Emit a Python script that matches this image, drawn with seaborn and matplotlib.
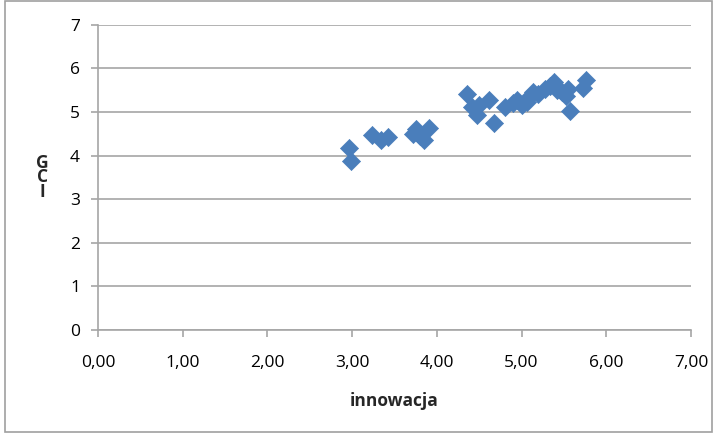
import matplotlib
matplotlib.use("Agg")
import matplotlib.pyplot as plt
from matplotlib.patches import Rectangle
from matplotlib.ticker import FuncFormatter, MultipleLocator
import pandas as pd
import seaborn as sns

# values
innowacja = [2.96, 2.99, 3.24, 3.34, 3.42, 3.72, 3.75, 3.80, 3.85, 3.91,
             4.36, 4.42, 4.47, 4.50, 4.62, 4.67, 4.80, 4.90, 4.95, 5.00,
             5.06, 5.08, 5.14, 5.20, 5.28, 5.34, 5.38, 5.42, 5.48, 5.52,
             5.55, 5.57, 5.72, 5.76]
gci = [4.17, 3.87, 4.48, 4.35, 4.43, 4.49, 4.61, 4.45, 4.36, 4.63,
       5.42, 5.12, 4.93, 5.16, 5.28, 4.76, 5.12, 5.20, 5.28, 5.16,
       5.22, 5.32, 5.45, 5.42, 5.52, 5.60, 5.68, 5.50, 5.46, 5.38,
       5.54, 5.02, 5.55, 5.73]

df = pd.DataFrame({"innowacja": innowacja, "GCI": gci})

sns.set_style("white")
plt.rcParams["font.family"] = ["Open Sans", "DejaVu Sans"]

fig = plt.figure(figsize=(7.16, 4.37), dpi=100)
ax = fig.add_axes([0.137, 0.245, 0.828, 0.698])

sns.scatterplot(data=df, x="innowacja", y="GCI", marker="D", s=85,
                color="#4A7EBB", edgecolor="#4A7EBB", linewidth=0.5, ax=ax,
                zorder=3)

ax.set_xlim(0, 7)
ax.set_ylim(0, 7)
ax.xaxis.set_major_locator(MultipleLocator(1))
ax.yaxis.set_major_locator(MultipleLocator(1))
ax.xaxis.set_major_formatter(FuncFormatter(lambda v, _: f"{v:.2f}".replace(".", ",")))
ax.yaxis.set_major_formatter(FuncFormatter(lambda v, _: f"{int(v)}"))

ax.grid(axis="y", color="#A6A6A6", linewidth=1.2)
ax.grid(axis="x", visible=False)
for side in ["top", "right"]:
    ax.spines[side].set_visible(False)
for side in ["left", "bottom"]:
    ax.spines[side].set_color("#A6A6A6")
    ax.spines[side].set_linewidth(1.2)

ax.tick_params(axis="both", direction="out", length=5, width=1.2,
               color="#A6A6A6", labelsize=12.5, labelcolor="black",
               bottom=True, left=True)
ax.tick_params(axis="x", pad=13)
ax.tick_params(axis="y", pad=8)

ax.set_xlabel("innowacja", fontsize=12.5, fontweight="bold", labelpad=15)
ax.set_ylabel("G\nC\nI", fontsize=12.5, fontweight="bold", rotation=0,
              linespacing=0.75, va="center", multialignment="center",
              labelpad=20)

fig.patches.append(Rectangle((0.007, 0.012), 0.988, 0.985,
                             transform=fig.transFigure, fill=False,
                             edgecolor="#A0A0A0", linewidth=1.2))

fig.savefig("out.png", dpi=100)
